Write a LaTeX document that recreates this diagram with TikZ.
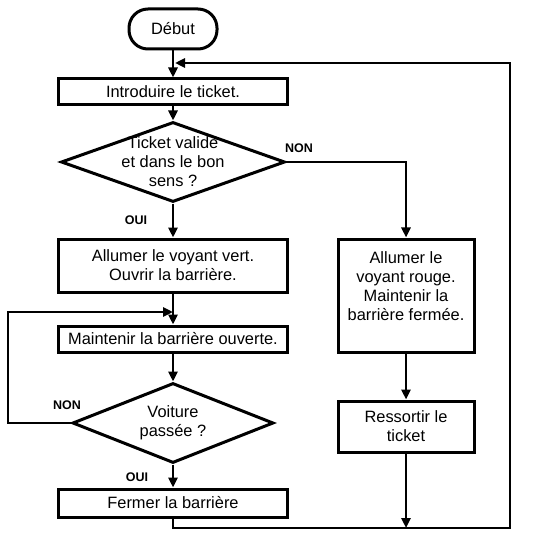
\documentclass[tikz,border=0pt]{standalone}
\usepackage{fontspec}
\setmainfont{Liberation Sans}
\usepackage{tikz}
\usetikzlibrary{arrows.meta, positioning, shapes.geometric}

\begin{document}
\begin{tikzpicture}[x=1bp, y=-1bp,
    txt/.style={font=\fontsize{16.4bp}{19bp}\selectfont, align=center},
    box/.style={draw, line width=3bp, txt, inner sep=0pt},
    start/.style={box, rounded corners=19bp, minimum width=88bp, minimum height=40bp},
    decision/.style={draw, diamond, line width=3bp, inner sep=0pt},
    lab/.style={font=\fontsize{12.5bp}{14bp}\selectfont\bfseries},
    arr/.style={line width=2.8bp, -{Triangle[length=10bp,width=9bp]}}]
    \useasboundingbox (0,0) rectangle (544,539);

    % Left column
    \node[start] (debut) at (173,29) {Début};
    \node[box, minimum width=229bp, minimum height=26bp] (intro) at (173,92) {Introduire le ticket.};
    \node[decision, minimum width=224bp, minimum height=80bp,
        label={[txt]center:Ticket valide\\et dans le bon\\sens ?}] (valide) at (173,162) {};
    \node[box, minimum width=229bp, minimum height=53bp] (vert) at (173,265.5) {Allumer le voyant vert.\\Ouvrir la barrière.};
    \node[box, minimum width=229bp, minimum height=26bp] (maint) at (173,339) {Maintenir la barrière ouverte.};
    \node[decision, minimum width=201bp, minimum height=80bp,
        label={[txt]center:Voiture\\passée ?}] (passee) at (173,423) {};
    \node[box, minimum width=229bp, minimum height=28bp] (fermer) at (173,503) {Fermer la barrière};

    % Right column
    \node[box, minimum width=136bp, minimum height=113bp, text depth=19bp] (rouge) at (406,295.5) {Allumer le\\voyant rouge.\\Maintenir la\\barrière fermée.};
    \node[box, minimum width=136bp, minimum height=51bp] (ressortir) at (406,426.5) {Ressortir le\\ticket};

    % Labels
    \node[lab] (non1) at (299,148) {NON};
    \node[lab] (oui1) at (136,220) {OUI};
    \node[lab] (non2) at (67,405) {NON};
    \node[lab] (oui2) at (137,477) {OUI};

    % Junctions
    \coordinate (join1) at (175,63);
    \coordinate (join2) at (173,312);
    \coordinate (corner) at (510,528);

    % Main flow
    \draw[arr] (debut) -- (intro);
    \draw[arr] (intro) -- (valide);
    \draw[arr] (valide) -- (vert);
    \draw[arr] (vert) -- (maint);
    \draw[arr] (maint) -- (passee);
    \draw[arr] (passee) -- (fermer);

    % NON branch
    \draw[arr] (valide.east) -| (rouge.north);
    \draw[arr] (rouge) -- (ressortir);
    \draw[arr] (ressortir.south) -- (ressortir.south |- corner);

    % Loops back
    \draw[arr] (passee.west) -- ++(-63,0) |- (join2);
    \draw[arr] (fermer.south) |- (corner) |- (join1);
\end{tikzpicture}
\end{document}
